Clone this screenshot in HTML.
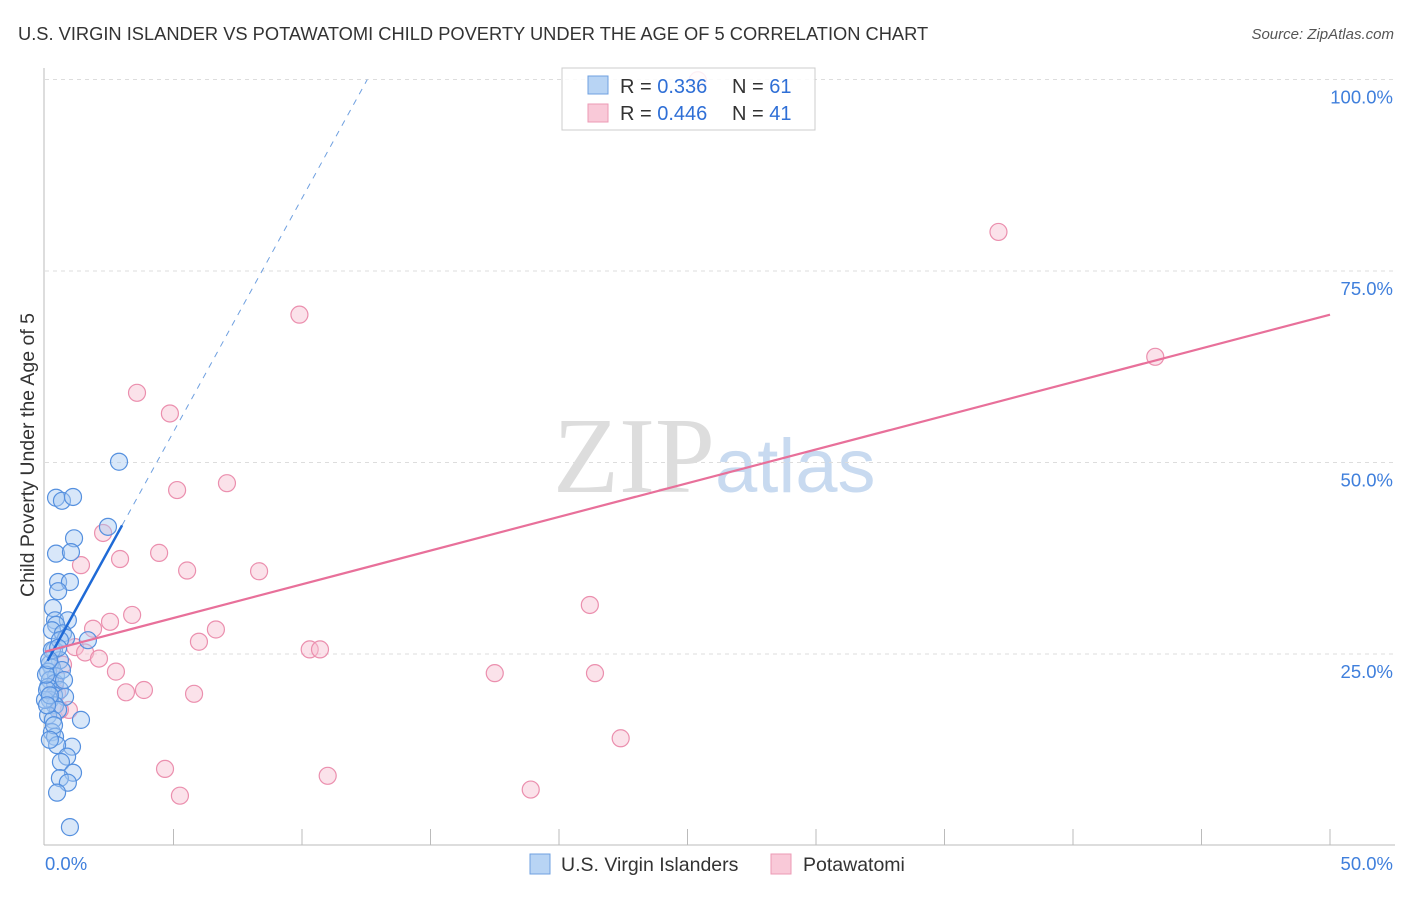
<!DOCTYPE html>
<html><head><meta charset="utf-8"><style>
body{margin:0;background:#fff;font-family:"Liberation Sans",sans-serif}
</style></head><body>
<svg id="c" width="1406" height="892" xmlns="http://www.w3.org/2000/svg">
<text x="18" y="40" font-size="18.3" fill="#333">U.S. VIRGIN ISLANDER VS POTAWATOMI CHILD POVERTY UNDER THE AGE OF 5 CORRELATION CHART</text>
<text x="1394" y="39" font-size="15" fill="#555" text-anchor="end" font-style="italic">Source: ZipAtlas.com</text>
<text x="553" y="492" font-size="108" fill="#ddd" font-family="Liberation Serif">ZIP<tspan fill="#c8daf0" font-family="Liberation Sans" font-size="76">atlas</tspan></text>
<text transform="translate(34,455) rotate(-90)" font-size="19.5" fill="#333" text-anchor="middle">Child Poverty Under the Age of 5</text>
<g id="grid"></g><g id="marks"></g>
<g>
<rect x="562" y="68" width="253" height="62" fill="#fff" fill-opacity="0.85" stroke="#ccc"/>
<rect x="588" y="76" width="20" height="18" fill="#b8d4f4" stroke="#6fa0e0"/>
<rect x="588" y="104" width="20" height="18" fill="#f9c9d8" stroke="#ec9ab5"/>
<text x="620" y="93" font-size="20" fill="#333">R = <tspan fill="#2f6fd6">0.336</tspan></text>
<text x="732" y="93" font-size="20" fill="#333">N = <tspan fill="#2f6fd6">61</tspan></text>
<text x="620" y="120" font-size="20" fill="#333">R = <tspan fill="#2f6fd6">0.446</tspan></text>
<text x="732" y="120" font-size="20" fill="#333">N = <tspan fill="#2f6fd6">41</tspan></text>
</g>
<g>
<rect x="530" y="854" width="20" height="20" fill="#b8d4f4" stroke="#6fa0e0"/>
<text x="561" y="871" font-size="19.5" fill="#333">U.S. Virgin Islanders</text>
<rect x="771" y="854" width="20" height="20" fill="#f9c9d8" stroke="#ec9ab5"/>
<text x="803" y="871" font-size="19.5" fill="#333">Potawatomi</text>
</g>
</svg>
<script>
const yTicks=[25,50,75,100];
const xTickLabels=["0.0%","50.0%"];
const blueX=[2.88,0.43,0.66,1.09,2.45,1.13,0.43,1.01,0.51,0.97,0.51,0.31,0.39,0.89,0.43,0.27,0.70,0.82,1.67,0.35,0.58,0.19,0.27,0.12,0.43,0.19,0.39,0.12,0.58,0.35,0.78,0.19,0.39,0.51,0.12,0.31,1.40,0.27,0.39,1.05,0.47,0.86,0.62,1.09,0.58,0.89,0.47,0.97,0,0.08,0.19,0.04,0.27,0.58,0.66,0.51,0.16,0.08,0.35,0.19,0.74];
const blueY=[50.1,45.4,45.0,45.5,41.6,40.1,38.1,38.3,34.4,34.4,33.2,31.0,29.4,29.4,28.8,28.1,27.7,27.1,26.8,25.5,24.2,23.7,23.2,22.7,22.1,21.6,21.2,20.7,20.3,19.6,19.4,19.0,18.3,17.7,17.0,16.4,16.4,14.8,14.2,12.9,13.1,11.6,10.9,9.5,8.8,8.2,6.9,2.4,19.0,20.3,19.6,22.3,25.5,26.8,22.9,25.8,24.2,18.3,15.7,13.8,21.6];
const pinkX=[25.4,37.1,43.2,9.9,3.58,4.86,5.14,7.08,2.26,4.44,2.92,5.53,8.33,1.40,3.39,21.2,2.53,6.65,1.87,5.99,10.3,10.7,1.17,1.56,2.10,0.70,2.76,17.5,21.4,3.15,3.85,5.80,0.39,0.47,0.93,22.4,4.67,11.0,5.25,18.9,0.58];
const pinkY=[99.9,80.1,63.8,69.3,59.1,56.4,46.4,47.3,40.8,38.2,37.4,35.9,35.8,36.6,30.1,31.4,29.2,28.2,28.3,26.6,25.6,25.6,25.9,25.2,24.4,23.6,22.7,22.5,22.5,20.0,20.3,19.8,20.9,19.9,17.7,14.0,10.0,9.1,6.5,7.3,17.7];
const blueFit=[23.5,6.1]; const pinkFit=[25.3,0.88];
const NS="http://www.w3.org/2000/svg";
const X=v=>45+v*25.7, Y=v=>845.5-v*7.66;
function mk(t,a,p){const e=document.createElementNS(NS,t);for(const k in a)e.setAttribute(k,a[k]);p.appendChild(e);return e;}
const g=document.getElementById('grid'),m=document.getElementById('marks');
const ax=mk('line',{x1:44,y1:68,x2:44,y2:845,stroke:'#bbb'},g);


const bx=mk('line',{x1:44,y1:845,x2:1395,y2:845,stroke:'#bbb'},g);


yTicks.forEach(t=>{const l=mk('line',{x1:45,y1:Y(t),x2:1395,y2:Y(t),stroke:'#ddd','stroke-dasharray':'4,4'},g);


const tx=mk('text',{x:1393,y:Y(t)+24,'font-size':18.5,fill:'#3f7fdc','text-anchor':'end'},g);tx.textContent=t.toFixed(1)+'%';

});
for(let i=1;i<=10;i++){const l=mk('line',{x1:X(i*5),y1:829,x2:X(i*5),y2:845,stroke:'#bbb'},g);

}
xTickLabels.forEach((s,i)=>{const tx=mk('text',{x:i?1393:45,y:870,'font-size':18.5,fill:'#3f7fdc','text-anchor':i?'end':'start'},g);tx.textContent=s;

});
function pts(xs,ys,f,s,n){xs.forEach((x,i)=>{const c=mk('circle',{cx:X(x),cy:Y(ys[i]),r:8.5,fill:f,'fill-opacity':0.45,stroke:s,'stroke-width':1.2},m);

});}
pts(pinkX,pinkY,'#f7bfd0','#eb8fae','potawatomi-point');
pts(blueX,blueY,'#a9c9f1','#5590df','virgin-islander-point');
const xe=(100-blueFit[0])/blueFit[1];
const d=mk('line',{x1:X(3),y1:Y(blueFit[0]+3*blueFit[1]),x2:X(xe),y2:Y(100),stroke:'#6fa0e0','stroke-dasharray':'6,6'},m);


const b=mk('line',{x1:X(0.1),y1:Y(blueFit[0]+0.1*blueFit[1]),x2:X(3),y2:Y(blueFit[0]+3*blueFit[1]),stroke:'#1f6ad6','stroke-width':2.5},m);


const p=mk('line',{x1:X(0),y1:Y(pinkFit[0]),x2:X(50),y2:Y(pinkFit[0]+50*pinkFit[1]),stroke:'#e8709a','stroke-width':2.2},m);


</script>
</body></html>
